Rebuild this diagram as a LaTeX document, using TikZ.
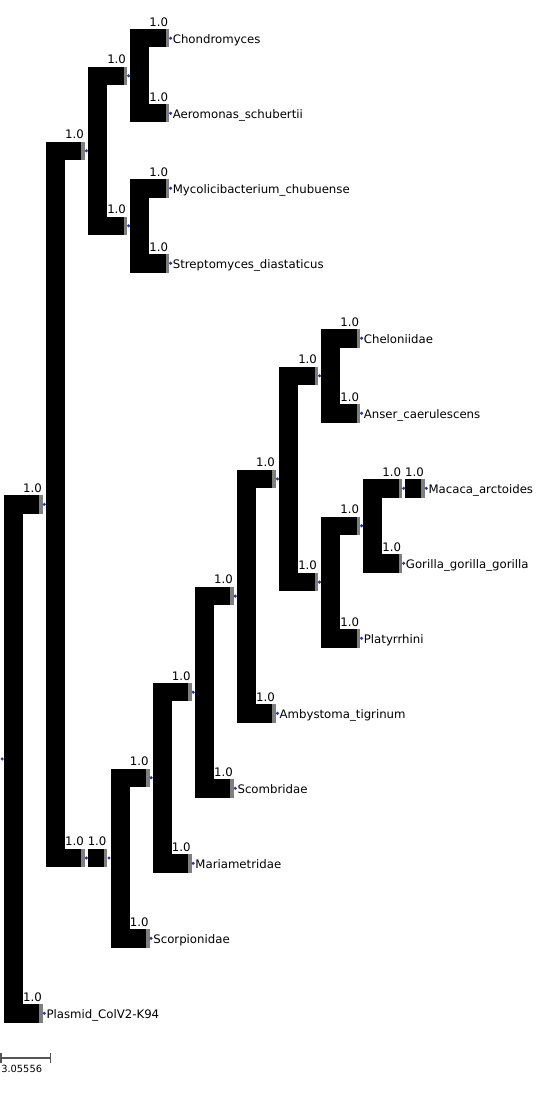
\documentclass[tikz,border=0pt]{standalone}
\usepackage{fontspec}
\setmainfont{DejaVu Sans}
\usetikzlibrary{calc}
\definecolor{tipblue}{HTML}{2238A0}
\definecolor{tickgray}{HTML}{7F7F7F}
\definecolor{scalegray}{HTML}{555555}

\begin{document}
\begin{tikzpicture}[x=0.75pt, y=-0.75pt,
  bar/.style={fill=black},
  tick/.style={fill=tickgray},
  tipdot/.style={fill=tipblue},
  supp/.style={font=\fontsize{8.8}{10}\selectfont, inner sep=0pt, anchor=base east},
  taxon/.style={font=\fontsize{8.8}{10}\selectfont, inner sep=0pt, anchor=base west}]
\useasboundingbox (0,0) rectangle (536,1102);

% Internal nodes
\coordinate (root) at (2.2,758.9);
\coordinate (A) at (44.3,504.4);
\coordinate (B) at (86.4,150.8);
\coordinate (D) at (86.4,858.0);
\coordinate (F) at (128.5,75.8);
\coordinate (G) at (128.5,225.8);
\coordinate (E) at (109.0,858.0);
\coordinate (H) at (151.1,777.75);
\coordinate (I) at (193.2,692.2);
\coordinate (J) at (235.3,596.1);
\coordinate (K) at (277.4,478.9);
\coordinate (L) at (319.5,375.8);
\coordinate (M) at (319.5,582.05);
\coordinate (N) at (361.6,525.8);
\coordinate (O) at (403.7,488.3);

% Tips
\coordinate (chon) at (170.6,38.3);
\coordinate (aero) at (170.6,113.3);
\coordinate (myco) at (170.6,188.3);
\coordinate (strep) at (170.6,263.3);
\coordinate (chel) at (361.6,338.3);
\coordinate (anse) at (361.6,413.3);
\coordinate (maca) at (426.3,488.3);
\coordinate (gori) at (403.7,563.3);
\coordinate (plat) at (361.6,638.3);
\coordinate (amby) at (277.4,713.3);
\coordinate (scom) at (235.3,788.3);
\coordinate (mari) at (193.2,863.3);
\coordinate (scor) at (151.1,938.3);
\coordinate (plas) at (44.3,1013.3);

% Vertical bars (parent/top child/bottom child)
\foreach \p/\t/\b in {root/A/plas, A/B/D, B/F/G, F/chon/aero, G/myco/strep,
    D/E/E, E/H/scor, H/I/mari, I/J/scom, J/K/amby, K/L/M, L/chel/anse,
    M/N/plat, N/O/gori, O/maca/maca}
  \fill[bar] ($(\p |- \t)+(1.7,-9.2)$) rectangle ($(\p |- \b)+(20.7,9.2)$);

% Horizontal branches with end tick and support value
\foreach \p/\c in {root/A, root/plas, A/B, A/D, B/F, B/G, F/chon, F/aero,
    G/myco, G/strep, D/E, E/H, E/scor, H/I, H/mari, I/J, I/scom, J/K, J/amby,
    K/L, K/M, L/chel, L/anse, M/N, M/plat, N/O, N/gori, O/maca} {
  \fill[bar] ($(\p |- \c)+(1.7,-9.2)$) rectangle ($(\c)+(-5,9.2)$);
  \fill[tick] ($(\c)+(-5,-9.2)$) rectangle ($(\c)+(-1.6,9.2)$);
  \node[supp] (s-\c) at ($(\c)+(-2.3,-12.2)$) {1.0};
}

% Node dots
\foreach \n in {root, A, B, D, F, G, E, H, I, J, K, L, M, N, O,
    chon, aero, myco, strep, chel, anse, maca, gori, plat, amby, scom, mari, scor, plas}
  \fill[tipdot] (\n) circle (1.7);

% Tip labels
\node[taxon] (chon-l) at ($(chon)+(2,5)$) {Chondromyces};
\node[taxon] (aero-l) at ($(aero)+(2,5)$) {Aeromonas\_schubertii};
\node[taxon] (myco-l) at ($(myco)+(2,5)$) {Mycolicibacterium\_chubuense};
\node[taxon] (strep-l) at ($(strep)+(2,5)$) {Streptomyces\_diastaticus};
\node[taxon] (chel-l) at ($(chel)+(2,5)$) {Cheloniidae};
\node[taxon] (anse-l) at ($(anse)+(2,5)$) {Anser\_caerulescens};
\node[taxon] (maca-l) at ($(maca)+(2,5)$) {Macaca\_arctoides};
\node[taxon] (gori-l) at ($(gori)+(2,5)$) {Gorilla\_gorilla\_gorilla};
\node[taxon] (plat-l) at ($(plat)+(2,5)$) {Platyrrhini};
\node[taxon] (amby-l) at ($(amby)+(2,5)$) {Ambystoma\_tigrinum};
\node[taxon] (scom-l) at ($(scom)+(2,5)$) {Scombridae};
\node[taxon] (mari-l) at ($(mari)+(2,5)$) {Mariametridae};
\node[taxon] (scor-l) at ($(scor)+(2,5)$) {Scorpionidae};
\node[taxon] (plas-l) at ($(plas)+(2,5)$) {Plasmid\_ColV2-K94};

% Scale bar
\coordinate (sb-a) at (1,1058);
\coordinate (sb-b) at (50.7,1058);
\draw[scalegray, line width=0.9pt] (sb-a) -- (sb-b);
\draw[scalegray, line width=0.9pt] ($(sb-a)+(0,-5)$) -- ($(sb-a)+(0,5)$);
\draw[scalegray, line width=0.9pt] ($(sb-b)+(0,-5)$) -- ($(sb-b)+(0,5)$);
\node[taxon, font=\fontsize{7.4}{9}\selectfont] (sb-l) at (1,1072) {3.05556};
\end{tikzpicture}
\end{document}
